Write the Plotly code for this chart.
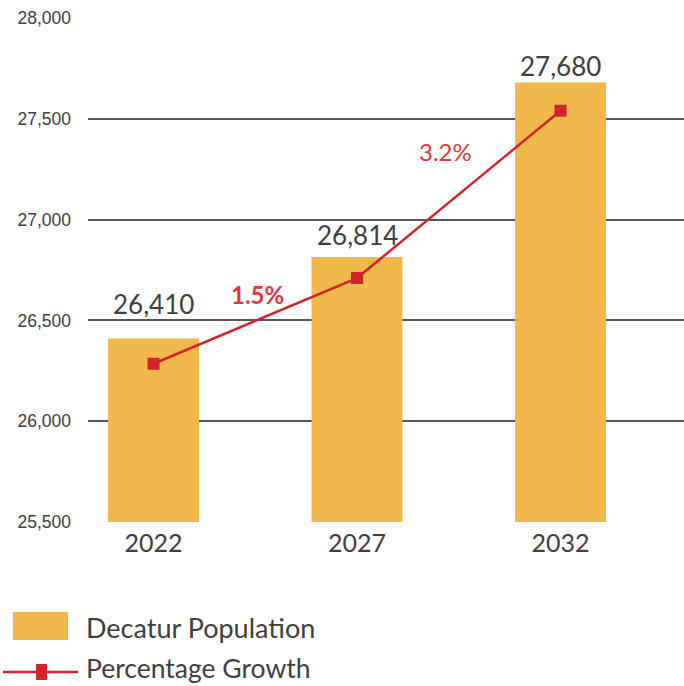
import plotly.graph_objects as go

years = ["2022", "2027", "2032"]
population = [26410, 26814, 27680]
growth_line_pos = [26285, 26710, 27540]
growth_labels = ["", "1.5%", "3.2%"]
y_ticks = [25500, 26000, 26500, 27000, 27500, 28000]

BAR = "#F1B84B"
RED = "#D2232A"
TXT = "#404040"
FONT = "Lato"

fig = go.Figure()
fig.add_trace(go.Bar(x=[0, 1, 2], y=population, width=0.447, marker_color=BAR,
                     marker_line_width=0, name="Decatur Population"))
fig.add_trace(go.Scatter(x=[0, 1, 2], y=growth_line_pos, mode="lines+markers",
                         line=dict(color=RED, width=2.5),
                         marker=dict(symbol="square", size=12, color=RED),
                         name="Percentage Growth"))

label_shift = [17, 4, -1]
for i, v in enumerate(population):
    fig.add_annotation(x=i, y=v, text=f"{v:,}", showarrow=False, yanchor="bottom",
                       yshift=label_shift[i], font=dict(family=FONT, size=26, color=TXT))

# growth labels
fig.add_annotation(x=0.5, y=growth_line_pos[0] + (growth_line_pos[1]-growth_line_pos[0])*0.5,
                   text="<b>" + growth_labels[1] + "</b>", showarrow=False,
                   xshift=2, yshift=26, font=dict(family=FONT, size=24, color="#E0383E"))
fig.add_annotation(x=1.5, y=growth_line_pos[1] + (growth_line_pos[2]-growth_line_pos[1])*0.5,
                   text=growth_labels[2], showarrow=False,
                   xshift=-13, yshift=43, font=dict(family=FONT, size=24, color="#E0383E"))

# manual legend
fig.add_shape(type="rect", xref="paper", yref="paper", x0=(13-88)/596, x1=(68-88)/596,
              y0=(522-612)/504, y1=(522-640)/504, fillcolor=BAR, line_width=0)
fig.add_annotation(xref="paper", yref="paper", x=(84-88)/596, y=(522-627)/504,
                   xanchor="left", yanchor="middle", text="Decatur Population",
                   showarrow=False, font=dict(family=FONT, size=27, color=TXT))
fig.add_shape(type="line", xref="paper", yref="paper", x0=(3-88)/596, x1=(78-88)/596,
              y0=(522-672)/504, y1=(522-672)/504, line=dict(color=RED, width=2.5))
fig.add_shape(type="rect", xref="paper", yref="paper", x0=(36-88)/596, x1=(47-88)/596,
              y0=(522-664)/504, y1=(522-680)/504, fillcolor=RED, line_width=0)
fig.add_annotation(xref="paper", yref="paper", x=(84-88)/596, y=(522-668)/504,
                   xanchor="left", yanchor="middle", text="Percentage Growth",
                   showarrow=False, font=dict(family=FONT, size=26.5, color=TXT))

fig.update_layout(
    width=684, height=686, margin=dict(l=88, r=0, t=18, b=164),
    plot_bgcolor="white", paper_bgcolor="white", showlegend=False,
    xaxis=dict(range=[-0.322, 2.607], tickmode="array", tickvals=[0, 1, 2], ticktext=years,
               showgrid=False, zeroline=False, showline=False,
               tickfont=dict(family=FONT, size=25, color=TXT), ticklabelstandoff=4),
    yaxis=dict(range=[25500, 28000], tickvals=y_ticks, tickformat=",",
               showgrid=True, gridcolor="#555555", gridwidth=1.5, zeroline=False,
               showline=False, tickfont=dict(family="Liberation Sans", size=17.5, color=TXT),
               ticklabelstandoff=16),
)
fig.write_html("out.html")
